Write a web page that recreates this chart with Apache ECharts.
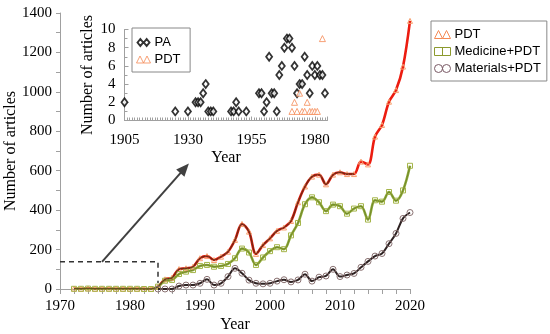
<!DOCTYPE html>
<html><head><meta charset="utf-8">
<script src="https://cdn.jsdelivr.net/npm/echarts@6/dist/echarts.min.js"></script>
<style>html,body{margin:0;padding:0;background:#fff}#c{width:550px;height:334px}</style>
</head><body><div id="c"></div>
<script>
// ---- main chart data ----
const YEARS = [1972,1973,1974,1975,1976,1977,1978,1979,1980,1981,1982,1983,1984,1985,1986,1987,1988,1989,1990,1991,1992,1993,1994,1995,1996,1997,1998,1999,2000,2001,2002,2003,2004,2005,2006,2007,2008,2009,2010,2011,2012,2013,2014,2015,2016,2017,2018,2019,2020];
const PDT = [2,1,3,1,1,2,1,1,1,1,0,0,12,49,57,101,105,113,156,167,147,164,189,249,330,291,178,223,257,295,312,345,440,520,570,580,531,580,592,583,583,646,632,773,832,950,1009,1128,1360];
const MEDICINE = [1,1,2,1,1,1,1,1,1,1,0,0,12,42,46,76,88,96,117,122,113,117,127,156,205,185,122,160,192,212,202,272,335,430,465,440,395,428,420,382,408,420,352,450,443,492,448,500,625];
const MATERIALS = [null,null,null,null,null,null,null,null,null,null,null,null,0,0,0,15,20,20,29,49,20,29,63,105,80,45,29,26,29,40,47,36,46,75,40,60,66,100,63,71,79,110,140,167,180,230,282,358,388];
// ---- inset data ----
const PA_YEARS = [1905,1925,1930,1933,1934,1935,1936,1937,1938,1939,1940,1947,1948,1949,1950,1953,1958,1959,1960,1961,1962,1963,1964,1965,1966,1967,1968,1969,1970,1971,1972,1973,1974,1975,1976,1977,1978,1979,1980,1981,1982,1983,1984];
const PA_COUNTS = [2,1,1,2,2,2,3,4,1,1,1,1,1,2,1,1,3,3,1,2,7,3,3,1,5,6,8,9,9,8,6,3,4,4,7,5,3,6,5,6,5,5,3];
const PDT_EARLY_YEARS = [1971,1972,1973,1974,1975,1976,1977,1978,1979,1980,1981,1983];
const PDT_EARLY_COUNTS = [1,2,1,3,1,1,2,1,1,1,1,9];
// ---- annotation (zoom box and arrow) ----
const ZOOM_BOX = [[1970,138],[1984,138],[1984,30]];
const ARROW = [[1976,138],[1987.8,612]];
const MAIN_X_TICKS = {min:1970,max:2020,step:10};
const MAIN_Y_TICKS = {min:0,max:1400,step:200};
const INSET_X_TICKS = {min:1905,max:1985,step:25};
const INSET_Y_TICKS = {min:0,max:10,step:2};

const pairs = (xs, ys) => xs.map((x,i)=>[x, ys[i]]);
const serif = 'Liberation Serif';
const sans = 'Liberation Sans';
const axisGray = '#a0a0a0';
const plain = v => String(v);

const chart = echarts.init(document.getElementById('c'), null, {renderer:'canvas'});
chart.setOption({
  animation:false,
  backgroundColor:'#fff',
  grid:[
    {left:60,top:13,width:350,height:276,outerBoundsMode:'none',containLabel:false},
    {left:124.5,top:29.5,width:203,height:91,outerBoundsMode:'none',containLabel:false}
  ],
  xAxis:[
    {gridIndex:0,type:'value',min:MAIN_X_TICKS.min,max:MAIN_X_TICKS.max,interval:MAIN_X_TICKS.step,
     name:'Year',nameLocation:'middle',nameGap:28,nameMoveOverlap:false,nameTextStyle:{fontFamily:serif,fontSize:16,color:'#000'},
     axisLine:{lineStyle:{color:axisGray}},axisTick:{length:5,lineStyle:{color:axisGray}},
     minorTick:{show:true,splitNumber:5,length:5,lineStyle:{color:axisGray}},
     axisLabel:{margin:10,fontFamily:serif,fontSize:15,color:'#000',formatter:plain},splitLine:{show:false}},
    {gridIndex:1,type:'value',min:INSET_X_TICKS.min,max:INSET_X_TICKS.max,interval:INSET_X_TICKS.step,
     name:'Year',nameLocation:'middle',nameGap:29,nameMoveOverlap:false,nameTextStyle:{fontFamily:serif,fontSize:16,color:'#000'},
     axisLine:{lineStyle:{color:axisGray}},axisTick:{inside:true,length:4,lineStyle:{color:axisGray}},
     minorTick:{show:true,splitNumber:25,length:3,lineStyle:{color:axisGray}},
     axisLabel:{margin:12,fontFamily:serif,fontSize:15,color:'#000',formatter:plain},splitLine:{show:false}}
  ],
  yAxis:[
    {gridIndex:0,type:'value',min:MAIN_Y_TICKS.min,max:MAIN_Y_TICKS.max,interval:MAIN_Y_TICKS.step,
     name:'Number of articles',nameLocation:'middle',nameGap:41,nameMoveOverlap:false,nameTextStyle:{fontFamily:serif,fontSize:16,color:'#000'},
     axisLine:{show:true,lineStyle:{color:axisGray}},axisTick:{show:true,length:4,lineStyle:{color:axisGray}},
     minorTick:{show:true,splitNumber:2,length:4,lineStyle:{color:axisGray}},
     axisLabel:{margin:8,fontFamily:serif,fontSize:15,color:'#000',formatter:plain},splitLine:{show:false}},
    {gridIndex:1,type:'value',min:INSET_Y_TICKS.min,max:INSET_Y_TICKS.max,interval:INSET_Y_TICKS.step,
     name:'Number of articles',nameLocation:'middle',nameGap:29,nameMoveOverlap:false,nameTextStyle:{fontFamily:serif,fontSize:16,color:'#000'},
     axisLine:{show:true,lineStyle:{color:axisGray}},axisTick:{show:true,inside:true,length:4,lineStyle:{color:axisGray}},
     minorTick:{show:true,splitNumber:2,length:3,lineStyle:{color:axisGray}},
     axisLabel:{margin:9,fontFamily:serif,fontSize:15,color:'#000',formatter:plain},splitLine:{show:false}}
  ],
  legend:[
    {left:431,top:21,orient:'vertical',itemWidth:18,itemHeight:8,itemGap:4,
     padding:[7,6,6,3],borderColor:'#888',borderWidth:1,backgroundColor:'#fff',
     textStyle:{fontFamily:sans,fontSize:13,color:'#000',padding:[0,0,0,-2]},selectedMode:false,
     data:[
      {name:'PDT',icon:'path://M0,10L5,0L10,10ZM10,10L15,0L20,10Z',itemStyle:{color:'#fff',borderColor:'#f58a55',borderWidth:1}},
      {name:'Medicine+PDT',icon:'path://M0,0H20V10H0ZM10,0V10',itemStyle:{color:'#fff',borderColor:'#8c9a2e',borderWidth:1}},
      {name:'Materials+PDT',icon:'path://M0,5A5,5,0,1,1,10,5A5,5,0,1,1,0,5ZM10,5A5,5,0,1,1,20,5A5,5,0,1,1,10,5Z',itemStyle:{color:'#fff',borderColor:'#7a5a66',borderWidth:1}}
     ]},
    {left:132,top:28,orient:'vertical',itemWidth:16,itemHeight:7,itemGap:4,
     padding:[8,6,6,4],borderColor:'#888',borderWidth:1,backgroundColor:'#fff',
     textStyle:{fontFamily:sans,fontSize:13,color:'#000',padding:[0,0,0,-2]},selectedMode:false,
     data:[
      {name:'PA',icon:'path://M0,5L4,0L8,5L4,10ZM9,5L13,0L17,5L13,10Z',itemStyle:{color:'#fff',borderColor:'#000',borderWidth:2}},
      {name:'PDT ',icon:'path://M0,10L5,0L10,10ZM10,10L15,0L20,10Z',itemStyle:{color:'#fff',borderColor:'#f58a55',borderWidth:1}}
     ]}
  ],
  series:[
    {name:'PDT',type:'line',xAxisIndex:0,yAxisIndex:0,smooth:0.35,data:pairs(YEARS,PDT),
     symbol:'triangle',symbolSize:5,showSymbol:true,
     lineStyle:{color:'#ec1c10',width:2.6},itemStyle:{color:'rgba(255,255,255,0)',borderColor:'#f7a070',borderWidth:1},z:3},
    {name:'pdt-trend',type:'line',xAxisIndex:0,yAxisIndex:0,smooth:0.35,silent:true,
     data:pairs(YEARS,PDT.map((v,i)=>YEARS[i]<=2012?v:null)),showSymbol:false,
     lineStyle:{color:'#5e2a14',width:1.4,opacity:0.85},z:4},
    {name:'Medicine+PDT',type:'line',xAxisIndex:0,yAxisIndex:0,smooth:0.35,data:pairs(YEARS,MEDICINE),
     symbol:'rect',symbolSize:5,showSymbol:true,
     lineStyle:{color:'#8fab3a',width:2.6},itemStyle:{color:'rgba(255,255,255,0)',borderColor:'#a5b54a',borderWidth:1},z:3},
    {name:'med-trend',type:'line',xAxisIndex:0,yAxisIndex:0,smooth:0.35,silent:true,
     data:pairs(YEARS,MEDICINE),showSymbol:false,
     lineStyle:{color:'#5d7020',width:1,opacity:0.6},z:4},
    {name:'Materials+PDT',type:'line',xAxisIndex:0,yAxisIndex:0,smooth:0.35,data:pairs(YEARS,MATERIALS),
     symbol:'circle',symbolSize:6,showSymbol:true,
     lineStyle:{color:'#2e2222',width:2},itemStyle:{color:'rgba(255,255,255,0)',borderColor:'#8a7272',borderWidth:1},z:5},
    {name:'zoom-box',type:'line',xAxisIndex:0,yAxisIndex:0,silent:true,data:ZOOM_BOX,showSymbol:false,
     lineStyle:{color:'#333',width:1.5,type:[5,4]},z:2,
     markLine:{silent:true,symbol:['none','triangle'],symbolSize:[11,13],label:{show:false},
       lineStyle:{color:'#404040',width:2,type:'solid'},
       data:[[{coord:ARROW[0]},{coord:ARROW[1]}]]}},
    {name:'PA',type:'scatter',xAxisIndex:1,yAxisIndex:1,data:pairs(PA_YEARS,PA_COUNTS),
     symbol:'diamond',symbolSize:[6,8],itemStyle:{color:'#fff',borderColor:'#000',borderWidth:1.8},z:4},
    {name:'PDT ',type:'scatter',xAxisIndex:1,yAxisIndex:1,data:pairs(PDT_EARLY_YEARS,PDT_EARLY_COUNTS),
     symbol:'triangle',symbolSize:[6,6],itemStyle:{color:'#fff',borderColor:'#f58a55',borderWidth:1},z:5}
  ]
});
</script></body></html>
